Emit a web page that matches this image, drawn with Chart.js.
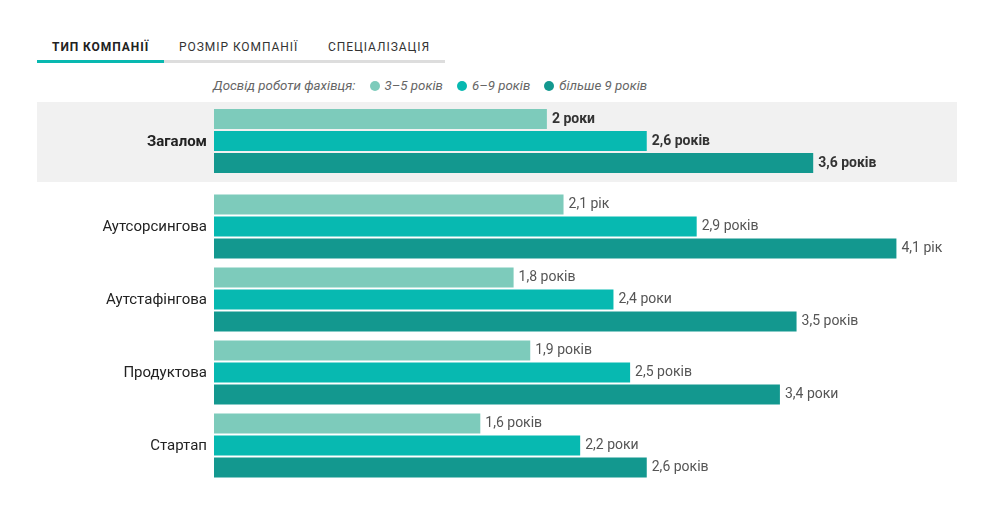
<!DOCTYPE html>
<html lang="uk">
<head>
<meta charset="utf-8">
<script src="https://cdn.jsdelivr.net/npm/chart.js@4/dist/chart.umd.min.js"></script>
<style>
  body { margin: 0; background: #fff; font-family: Roboto, "Noto Sans", sans-serif; width: 1000px; height: 530px; position: relative; overflow: hidden; }
  .tabs { position: absolute; left: 37px; top: 38px; width: 408px; height: 22px; border-bottom: 3px solid #ddd; }
  .tab { position: absolute; top: 2px; font-size: 12px; letter-spacing: 0.95px; color: #333; }
  .tab.active { font-weight: bold; color: #222; }
  .tab-line { position: absolute; left: 0; bottom: -3px; width: 127px; height: 3px; background: #08b8b0; }
  .legend { position: absolute; left: 213px; top: 78px; font-size: 13.3px; font-style: italic; color: #666; white-space: nowrap; }
  .legend span.dot { display: inline-block; width: 10px; height: 10px; border-radius: 50%; margin: 0 5px 0 14px; vertical-align: -0.5px; }
  .band { position: absolute; left: 37px; top: 102px; width: 920px; height: 80px; background: #f1f1f1; }
  .wrap { position: absolute; left: 0; width: 1000px; }
</style>
</head>
<body>
<div class="tabs">
  <div class="tab active" style="left:15px">ТИП КОМПАНІЇ</div>
  <div class="tab" style="left:142px">РОЗМІР КОМПАНІЇ</div>
  <div class="tab" style="left:291px">СПЕЦІАЛІЗАЦІЯ</div>
  <div class="tab-line"></div>
</div>
<div class="legend" id="legend"></div>
<div class="band"></div>
<div class="wrap" style="top:101px;height:80px"><canvas id="totalChart"></canvas></div>
<div class="wrap" style="top:190px;height:292px"><canvas id="typeChart"></canvas></div>
<script>
// категорії та значення (роки)
const categories = ['Загалом', 'Аутсорсингова', 'Аутстафінгова', 'Продуктова', 'Стартап'];
const seriesNames = ['3–5 років', '6–9 років', 'більше 9 років'];
const exp3to5 = [2, 2.1, 1.8, 1.9, 1.6];
const exp6to9 = [2.6, 2.9, 2.4, 2.5, 2.2];
const exp9plus = [3.6, 4.1, 3.5, 3.4, 2.6];
const colors = ['#7dcbbb', '#07b9b1', '#13988f'];

const legend = document.getElementById('legend');
legend.innerHTML = 'Досвід роботи фахівця:' + seriesNames.map((n, i) =>
  '<span class="dot" style="background:' + colors[i] + '"></span>' + n).join('');

// "2,1 рік", "2,4 роки", "2,6 років"
function yearsLabel(v) {
  const s = String(v).replace('.', ',');
  const last = Number(s[s.length - 1]);
  let word = 'років';
  if (last === 1) word = 'рік';
  else if (last >= 2 && last <= 4) word = 'роки';
  return s + ' ' + word;
}

// підписи значень праворуч від смуг + назви категорій зліва
const barLabels = {
  id: 'barLabels',
  afterDatasetsDraw(chart, args, opts) {
    const ctx = chart.ctx;
    ctx.save();
    ctx.textBaseline = 'middle';
    ctx.font = opts.font;
    ctx.fillStyle = opts.color;
    ctx.textAlign = 'left';
    chart.data.datasets.forEach((ds, di) => {
      chart.getDatasetMeta(di).data.forEach((bar, i) => {
        ctx.fillText(yearsLabel(ds.data[i]), bar.x + 5, bar.y);
      });
    });
    const yScale = chart.scales.y;
    ctx.font = opts.catFont;
    ctx.fillStyle = '#222';
    ctx.textAlign = 'right';
    chart.data.labels.forEach((lbl, i) => {
      ctx.fillText(lbl, chart.chartArea.left - 7, yScale.getPixelForTick(i) + 1);
    });
    ctx.restore();
  }
};

function makeChart(id, from, to, slot, bold) {
  const datasets = [exp3to5, exp6to9, exp9plus].map((arr, i) => ({
    label: seriesNames[i],
    data: arr.slice(from, to),
    backgroundColor: colors[i],
    categoryPercentage: 66 / slot,
    barPercentage: 20 / 22
  }));
  return new Chart(document.getElementById(id), {
    type: 'bar',
    data: { labels: categories.slice(from, to), datasets: datasets },
    options: {
      indexAxis: 'y',
      responsive: true,
      maintainAspectRatio: false,
      animation: false,
      layout: { padding: { left: 0, right: 37, top: 0, bottom: 0 } },
      scales: {
        x: { display: false, min: 0, max: 4.5 },
        y: {
          grid: { display: false, drawTicks: false },
          border: { display: false },
          ticks: { display: false },
          afterFit(scale) { scale.width = 214; }
        }
      },
      plugins: {
        legend: { display: false },
        tooltip: { enabled: false },
        barLabels: {
          font: (bold ? 'bold ' : '') + '14px Roboto',
          catFont: (bold ? 'bold ' : '') + '15px Roboto',
          color: bold ? '#333' : '#555'
        }
      }
    },
    plugins: [barLabels]
  });
}

makeChart('totalChart', 0, 1, 80, true);
makeChart('typeChart', 1, 5, 73, false);
</script>
</body>
</html>
